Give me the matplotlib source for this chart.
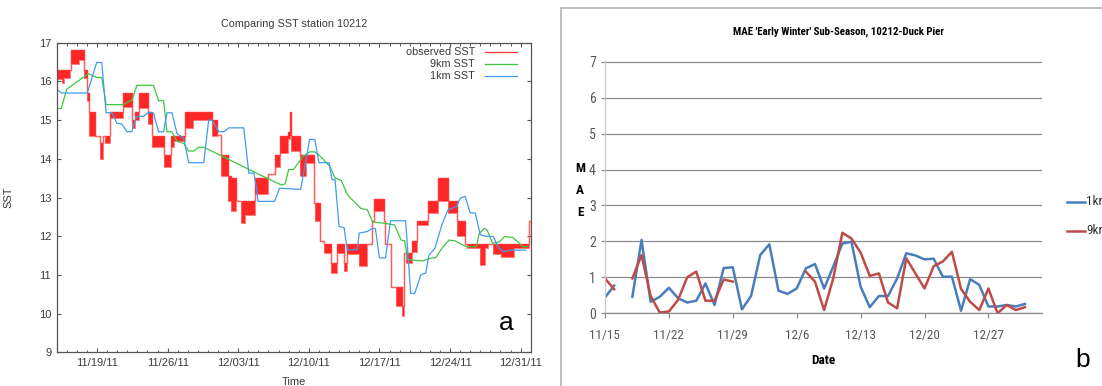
import matplotlib
matplotlib.use('Agg')
import matplotlib.pyplot as plt
from matplotlib import font_manager as fm
from matplotlib.lines import Line2D
from matplotlib.ticker import MultipleLocator, FixedLocator
import numpy as np

nan = np.nan

# ---------------- Panel a data (days since 11/15/11 00:00) ----------------
obs_t = [0.0, 0.5, 0.7, 1.3, 1.45, 2.2, 2.7, 3.0, 3.25, 3.8, 4.3, 4.6, 4.8, 5.3, 6.6, 7.5, 7.8, 8.2,
         9.1, 9.45, 10.6, 11.3, 11.6, 12.7, 13.5, 15.35, 15.85, 16.3, 17.0, 17.3, 17.8, 18.25, 18.65,
         19.65, 21.0, 21.65, 22.15, 22.95, 23.1, 23.25, 24.1, 24.7, 25.5, 25.6, 26.15, 26.5, 27.15,
         27.8, 28.5, 28.8, 29.95, 30.8, 31.3, 31.45, 32.45, 32.6, 33.1, 33.6, 34.25, 34.45, 34.6,
         35.25, 35.7, 36.8, 37.85, 38.8, 39.66, 40.5, 40.66, 42.0, 42.5, 42.8, 43.3, 44.1, 45.3,
         46.8, 47.0]
obs_hi = [16.3, 16.3, 16.3, 16.3, 16.8, 16.8, 16.3, 15.7, 15.2, 14.6, 14.4, 14.6, 14.6, 15.2, 15.7, 15.0, 15.2, 15.7,
          15.2, 14.6, 14.1, 14.6, 14.6, 15.2, 15.2, 15.0, 14.62, 14.1, 13.55, 13.5, 12.9, 12.9, 12.9,
          13.5, 13.6, 14.1, 14.6, 14.7, 15.2, 14.6, 14.1, 14.1, 12.86, 12.86, 11.87, 11.8, 11.31,
          11.8, 11.31, 11.8, 11.8, 11.8, 12.38, 12.95, 12.38, 11.8, 10.7, 10.7, 10.2, 11.57, 11.57,
          11.87, 12.38, 12.9, 13.5, 12.9, 12.4, 11.8, 11.8, 11.8, 11.8, 11.8, 11.8, 11.8, 11.8,
          12.38, 12.38]
obs_lo = [16.05, 15.95, 16.1, 16.3, 16.45, 16.55, 16.1, 15.5, 14.6, 14.6, 14.0, 14.6, 14.4, 15.05, 15.35, 14.8, 15.0, 15.3,
          14.9, 14.3, 13.8, 14.3, 14.45, 14.8, 15.0, 14.6, 14.62, 13.55, 12.9, 12.65, 12.9, 12.35, 12.55,
          13.1, 13.6, 13.8, 14.15, 14.5, 14.6, 14.2, 13.55, 13.9, 12.86, 12.38, 11.87, 11.57, 11.05,
          11.57, 11.1, 11.55, 11.22, 11.8, 12.38, 12.65, 12.38, 11.8, 10.7, 10.2, 9.93, 11.57, 11.3,
          11.6, 12.3, 12.6, 12.9, 12.6, 12.0, 11.8, 11.7, 11.25, 11.7, 11.8, 11.55, 11.45, 11.7,
          12.38, 12.38]

km9_t = [0.0, 0.45, 1.0, 3.15, 3.97, 4.47, 4.9, 6.63, 7.29, 7.45, 7.95, 9.6, 10.1, 10.6, 10.93, 11.43,
         11.93, 12.59, 13.09, 13.58, 14.08, 14.58, 20.2, 22.3, 22.64, 23.0, 23.46, 24.4, 25.08, 25.58,
         26.0, 27.1, 27.6, 28.2, 28.76, 29.0, 30.15, 30.81, 31.31, 32.6, 33.5, 34.15, 34.5, 34.8, 35.3,
         36.3, 36.9, 37.6, 38.2, 38.9, 39.5, 39.9, 40.6, 41.6, 41.9, 42.4, 42.7, 43.2, 43.9, 44.4,
         45.2, 45.7, 46.2, 46.7]
km9_v = [15.3, 15.3, 15.8, 16.2, 16.1, 16.1, 15.4, 15.4, 15.5, 15.5, 15.9, 15.9, 15.5, 15.5, 14.7, 14.7,
         14.45, 14.4, 14.2, 14.2, 14.3, 14.3, 13.58, 13.32, 13.35, 13.72, 13.72, 14.05, 14.18, 14.18,
         14.1, 13.8, 13.5, 13.45, 13.11, 13.02, 12.72, 12.68, 12.37, 12.33, 12.29, 11.9, 11.88, 11.4, 11.38,
         11.36, 11.42, 11.45, 11.69, 11.9, 11.88, 11.82, 11.73, 11.73, 12.07, 12.2, 12.15, 11.82, 11.85, 11.99,
         11.97, 11.86, 11.73, 11.73]

km1_t = [0.0, 0.5, 3.04, 3.97, 4.47, 4.9, 5.47, 5.96, 6.46, 6.96, 7.45, 7.89, 8.6, 9.1, 9.6, 10.1, 10.6,
         10.93, 11.43, 11.93, 12.59, 13.09, 14.58, 15.07, 15.4, 16.07, 16.57, 17.06, 18.55, 19.05, 19.55,
         19.88, 19.95, 21.6, 22.1, 24.19, 25.08, 25.6, 26.0, 27.0, 27.3, 27.6, 28.0, 28.5, 28.8, 29.8,
         30.0, 30.8, 31.3, 31.6, 32.0, 32.6, 33.1, 34.6, 35.1, 35.5, 36.1, 36.6, 36.9, 37.5, 38.2, 38.8,
         39.66, 40.0, 40.5, 41.0, 41.5, 42.0, 42.5, 43.3, 43.8, 44.3, 45.0, 46.5]
km1_v = [15.79, 15.7, 15.7, 16.49, 16.49, 15.19, 15.19, 14.92, 14.9, 14.7, 14.7, 15.09, 15.1, 15.2, 15.18, 14.7, 14.7,
         15.19, 15.19, 14.65, 14.53, 13.9, 13.9, 15.0, 15.0, 14.7, 14.7, 14.8, 14.8, 13.63, 13.63,
         13.15, 12.9, 12.9, 13.24, 13.21, 14.5, 14.5, 13.9, 13.9, 13.46, 13.46, 12.25, 12.22, 11.65, 11.65,
         12.08, 12.12, 12.2, 12.2, 11.44, 11.44, 12.4, 12.4, 10.52, 10.52, 11.0, 11.05, 11.5, 11.69, 12.3, 12.68,
         12.77, 12.98, 13.03, 12.6, 12.6, 12.04, 12.0, 11.99, 11.7, 11.6, 11.64, 11.64]

a_tick_pos = [4, 11, 18, 25, 32, 39, 46]
a_tick_lab = ['11/19/11', '11/26/11', '12/03/11', '12/10/11', '12/17/11', '12/24/11', '12/31/11']

# ---------------- Panel b data (daily MAE, index = days since 11/15) ----------------
mae_1km = [0.44, 0.77, nan, 0.46, 2.04, 0.32, 0.46, 0.71, 0.42, 0.30, 0.35, 0.83, 0.23, 1.26, 1.28, 0.11,
           0.48, 1.62, 1.92, 0.63, 0.54, 0.69, 1.25, 1.37, 0.69, 1.30, 1.94, 1.99, 0.74, 0.17, 0.48, 0.48,
           0.97, 1.67, 1.61, 1.50, 1.52, 1.02, 1.02, 0.07, 0.95, 0.79, 0.19, 0.19, 0.23, 0.19, 0.26]
mae_9km = [0.97, 0.67, nan, 0.97, 1.62, 0.48, 0.02, 0.05, 0.37, 1.00, 1.16, 0.35, 0.35, 0.94, 0.88, nan,
           nan, nan, nan, nan, nan, nan, 1.16, 0.88, 0.09, 0.97, 2.24, 2.08, 1.69, 1.04, 1.11, 0.30,
           0.14, 1.53, 1.11, 0.69, 1.31, 1.44, 1.71, 0.68, 0.32, 0.09, 0.69, 0.00, 0.23, 0.09, 0.17]
b_tick_pos = [0, 7, 14, 21, 28, 35, 42]
b_tick_lab = ['11/15', '11/22', '11/29', '12/6', '12/13', '12/20', '12/27']

# ---------------- fonts ----------------
names = {f.name for f in fm.fontManager.ttflist}
sans = 'Liberation Sans' if 'Liberation Sans' in names else 'DejaVu Sans'
plt.rcParams['font.family'] = [sans, 'DejaVu Sans']


def find_condensed(bold):
    pref = ['Liberation Sans Narrow', 'Roboto Condensed', 'Open Sans Condensed', 'Noto Sans Condensed',
            'Open Sans', 'Noto Sans', 'DejaVu Sans Condensed', 'DejaVu Sans', 'Roboto']
    cands = []
    for f in fm.fontManager.ttflist:
        narrowish = ('Narrow' in f.name or 'Condensed' in f.name or
                     f.stretch in ('condensed', 'semi-condensed', 'extra-condensed', 'ultra-condensed')
                     or 'Condensed' in f.fname or 'Narrow' in f.fname)
        if not narrowish or f.style != 'normal':
            continue
        if 'Mono' in f.name or 'Serif' in f.name:
            continue
        try:
            w = int(f.weight)
        except (TypeError, ValueError):
            w = 700 if 'bold' in str(f.weight).lower() else 400
        if bold and w != 700:
            continue
        if not bold and w != 400:
            continue
        lower = f.fname.lower()
        if 'semicondensed' in lower or 'semi' in lower:
            continue
        rank = next((i for i, p in enumerate(pref) if f.name.startswith(p)), len(pref))
        cands.append((rank, f.fname))
    cands.sort()
    return cands[0][1] if cands else None


reg_path = find_condensed(False)
bold_path = find_condensed(True)


def fp(size, bold=False):
    path = bold_path if bold else reg_path
    if path is None:
        return fm.FontProperties(family=sans, size=size * 0.88, weight='bold' if bold else 'normal')
    return fm.FontProperties(fname=path, size=size)


W, H = 1102, 386
fig = plt.figure(figsize=(W / 100, H / 100), dpi=100)


def fx(px):
    return px / W


def fy(py):
    return 1 - py / H


# ================= Panel a =================
axa = fig.add_axes([fx(56.7), fy(352.3), (530.7 - 56.7) / W, (352.3 - 42.7) / H])
axa.fill_between(obs_t, obs_lo, obs_hi, step='post', color='#ff0000', alpha=0.85, lw=0)
axa.plot(obs_t, obs_hi, drawstyle='steps-post', color='#ff3333', lw=1.0)
axa.plot(obs_t, obs_lo, drawstyle='steps-post', color='#ff6666', lw=0.6)
axa.plot(km9_t, km9_v, color='#3fc63f', lw=0.9)
axa.plot(km1_t, km1_v, color='#3f9cf0', lw=0.9)
axa.set_xlim(0, 47)
axa.set_ylim(9, 17)
axa.set_yticks(range(9, 18))
axa.xaxis.set_major_locator(FixedLocator(a_tick_pos))
axa.set_xticklabels(a_tick_lab)
axa.xaxis.set_minor_locator(MultipleLocator(1))
axa.tick_params(which='major', direction='in', length=3.2, width=0.8, top=True, right=True,
                labelsize=8, color='#555555', labelcolor='#3a3a3a', pad=4)
axa.tick_params(which='minor', direction='in', length=1.8, width=0.7, top=True, right=False,
                color='#555555')
axa.tick_params(axis='y', which='minor', left=False, right=False)
for s in axa.spines.values():
    s.set_color('#555555')
    s.set_linewidth(0.9)
axa.set_ylabel('SST', fontsize=8, color='#3a3a3a')
axa.yaxis.set_label_coords((13 - 56.7) / 474, 0.5)
axa.set_xlabel('Time', fontsize=8, color='#3a3a3a')
axa.xaxis.set_label_coords(0.5, (352.3 - 381.7) / 309.6)
axa.xaxis.label.set_va('center')
axa.text(0.5, 1 + (42.7 - 24) / 309.6, 'Comparing SST station 10212', transform=axa.transAxes,
         ha='center', va='center', fontsize=7.8, color='#3a3a3a')

# legend (gnuplot style: right aligned labels, line samples at right)
leg = [('observed SST', '#ff3333', 52), ('9km SST', '#3fc63f', 64), ('1km SST', '#3f9cf0', 76)]
for lab, col, py in leg:
    yy = 1 - (py - 42.7) / 309.6
    axa.plot([(485 - 56.7) / 474, (517 - 56.7) / 474], [yy, yy], transform=axa.transAxes,
             color=col, lw=0.9, clip_on=False)
    axa.text((475 - 56.7) / 474, yy, lab, transform=axa.transAxes, ha='right', va='center',
             fontsize=7.8, color='#3a3a3a')

fig.text(fx(506), fy(323), 'a', fontsize=19, ha='center', va='center', color='black')

# ================= Panel b =================
grey_grid = '#8c8c8c'
axb = fig.add_axes([fx(605), fy(313.3), (1042.3 - 605) / W, (313.3 - 61) / H])
days = np.arange(len(mae_1km))
axb.plot(days, mae_1km, color='#4a7ebb', lw=1.8, solid_joinstyle='round')
axb.plot(days, mae_9km, color='#be4b48', lw=1.8, solid_joinstyle='round')
axb.set_xlim(0, 47.9)
axb.set_ylim(0, 7.02)
axb.set_yticks(range(0, 8))
axb.set_yticklabels([str(i) for i in range(8)], fontproperties=fp(10))
axb.set_xticks(b_tick_pos)
axb.set_xticklabels(b_tick_lab, fontproperties=fp(9.5))
axb.yaxis.grid(True, color=grey_grid, lw=0.9)
axb.set_axisbelow(True)
for side in ['top', 'right']:
    axb.spines[side].set_visible(False)
axb.spines['left'].set_color('#c8c8c8')
axb.spines['left'].set_linewidth(0.9)
axb.spines['bottom'].set_color(grey_grid)
axb.spines['bottom'].set_linewidth(0.9)
axb.tick_params(axis='y', length=3, width=0.9, color=grey_grid, labelcolor='#595959', pad=3.5)
axb.tick_params(axis='x', length=3.5, width=0.9, color=grey_grid, labelcolor='#595959', pad=8)

fig.text(fx(838), fy(32), "MAE 'Early Winter' Sub-Season, 10212-Duck Pier",
         fontproperties=fp(7.8, True), ha='center', va='center', color='black')
for letter, py in [('M', 169), ('A', 190), ('E', 213)]:
    fig.text(fx(580), fy(py), letter, fontproperties=fp(9.5, True),
             ha='center', va='center', color='black')
fig.text(fx(823), fy(360), 'Date', fontproperties=fp(9.5, True),
         ha='center', va='center', color='black')

for lab, col, py in [('1km', '#4a7ebb', 201.7), ('9km', '#be4b48', 230.7)]:
    fig.add_artist(Line2D([fx(1067), fx(1085)], [fy(py), fy(py)], color=col, lw=1.8))
    fig.text(fx(1086), fy(py), lab, fontproperties=fp(9.5), ha='left', va='center', color='#333333')

fig.text(fx(1083), fy(360), 'b', fontsize=19, ha='center', va='center', color='black')

# outer frame of panel b (left and top edges)
fig.add_artist(Line2D([fx(561), fx(561)], [fy(8), 0], color='#b4b4b4', lw=1.2))
fig.add_artist(Line2D([fx(561), 1], [fy(8), fy(8)], color='#b4b4b4', lw=1.2))

fig.savefig('out.png', dpi=100)
